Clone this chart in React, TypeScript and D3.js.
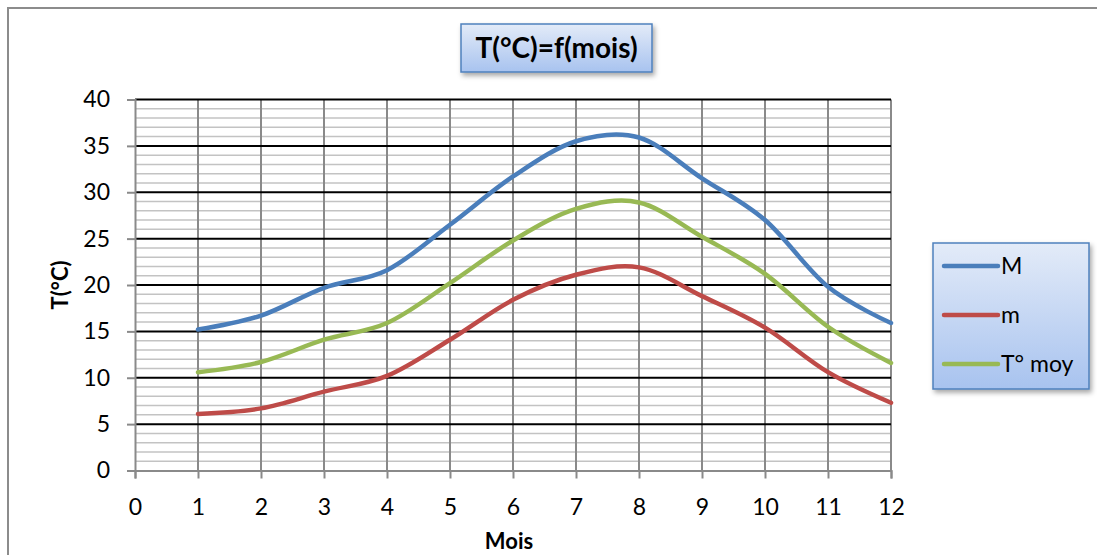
import { useEffect, useRef } from "react";
import * as d3 from "d3";

// months 1..12
const mois = [1, 2, 3, 4, 5, 6, 7, 8, 9, 10, 11, 12];
const tMax = [15.2, 16.7, 19.7, 21.6, 26.5, 31.7, 35.5, 35.9, 31.5, 27.0, 19.8, 15.9];
const tMin = [6.1, 6.7, 8.5, 10.2, 14.1, 18.4, 21.1, 21.9, 18.8, 15.4, 10.6, 7.3];
const tMoy = [10.6, 11.7, 14.1, 15.9, 20.2, 24.8, 28.2, 28.9, 25.2, 21.2, 15.5, 11.6];
const xTicks = [0, 1, 2, 3, 4, 5, 6, 7, 8, 9, 10, 11, 12];
const yTicks = [0, 5, 10, 15, 20, 25, 30, 35, 40];

const seriesNames = ["M", "m", "T° moy"];
const seriesColors = ["#4a7ebb", "#be4b48", "#98b954"];
const seriesValues = [tMax, tMin, tMoy];

const FONT = "Lato, 'Open Sans', sans-serif";

export default function App() {
    const svgRef = useRef<SVGSVGElement | null>(null);
    const W = 1097;
    const H = 555;
    const margin = { top: 99.5, right: 206, bottom: 84.5, left: 135 };

    useEffect(() => {
        const svg = d3.select(svgRef.current);
        svg.selectAll("*").remove();

        const defs = svg.append("defs");
        const grad = defs.append("linearGradient")
            .attr("id", "boxGrad")
            .attr("x1", 0).attr("y1", 0).attr("x2", 0).attr("y2", 1);
        grad.append("stop").attr("offset", "0%").attr("stop-color", "#e3ebf8");
        grad.append("stop").attr("offset", "100%").attr("stop-color", "#a8c3ef");
        const shadow = defs.append("filter").attr("id", "shadow")
            .attr("x", "-20%").attr("y", "-20%").attr("width", "150%").attr("height", "150%");
        shadow.append("feDropShadow")
            .attr("dx", 2).attr("dy", 3).attr("stdDeviation", 2.5)
            .attr("flood-color", "#000").attr("flood-opacity", 0.35);

        // outer frame (only top & left visible)
        svg.append("rect")
            .attr("x", 8).attr("y", 8)
            .attr("width", 1200).attr("height", 700)
            .attr("fill", "white")
            .attr("stroke", "#8c8c8c")
            .attr("stroke-width", 2);

        const wG = W - margin.left - margin.right;
        const hG = H - margin.top - margin.bottom;

        const x = d3.scaleLinear().domain([0, 12]).range([0, wG]);
        const y = d3.scaleLinear().domain([0, 40]).range([hG, 0]);

        const g = svg.append("g")
            .attr("transform", `translate(${margin.left},${margin.top})`);

        // minor horizontal gridlines
        g.append("g")
            .selectAll("line")
            .data(d3.range(1, 40).filter((v) => v % 5 !== 0))
            .join("line")
            .attr("x1", 0).attr("x2", wG)
            .attr("y1", (d) => y(d)).attr("y2", (d) => y(d))
            .attr("stroke", "#c3c3c3")
            .attr("stroke-width", 1.5);

        // vertical gridlines
        g.append("g")
            .selectAll("line")
            .data(xTicks.slice(1))
            .join("line")
            .attr("x1", (d) => x(d)).attr("x2", (d) => x(d))
            .attr("y1", 0).attr("y2", hG)
            .attr("stroke", "#8a8a8a")
            .attr("stroke-width", 2);

        // major horizontal gridlines
        g.append("g")
            .selectAll("line")
            .data(yTicks.slice(1))
            .join("line")
            .attr("x1", 0).attr("x2", wG)
            .attr("y1", (d) => y(d)).attr("y2", (d) => y(d))
            .attr("stroke", "#000")
            .attr("stroke-width", 2);

        // y axis
        const yAxis = g.append("g")
            .call(d3.axisLeft(y).tickValues(yTicks).tickSize(8).tickPadding(17));
        yAxis.select(".domain").attr("stroke", "#8a8a8a").attr("stroke-width", 2);
        yAxis.selectAll(".tick line").attr("stroke", "#8a8a8a").attr("stroke-width", 2);
        yAxis.selectAll(".tick text")
            .attr("font-family", FONT).attr("font-size", 23).attr("fill", "#000");

        // x axis
        const xAxis = g.append("g")
            .attr("transform", `translate(0,${hG})`)
            .call(d3.axisBottom(x).tickValues(xTicks).tickSize(8).tickPadding(20));
        xAxis.select(".domain").attr("stroke", "#8a8a8a").attr("stroke-width", 2);
        xAxis.selectAll(".tick line").attr("stroke", "#8a8a8a").attr("stroke-width", 2);
        xAxis.selectAll(".tick text")
            .attr("font-family", FONT).attr("font-size", 23).attr("fill", "#000");

        // lines
        const line = d3.line<number>()
            .x((_, i) => x(mois[i]))
            .y((d) => y(d))
            .curve(d3.curveCardinal.tension(0));

        seriesValues.forEach((vals, i) => {
            g.append("path")
                .datum(vals)
                .attr("fill", "none")
                .attr("stroke", seriesColors[i])
                .attr("stroke-width", 4.5)
                .attr("stroke-linecap", "round")
                .attr("d", line);
        });

        // axis titles
        svg.append("text")
            .attr("x", margin.left + wG / 2 - 4)
            .attr("y", 549)
            .attr("text-anchor", "middle")
            .attr("font-family", FONT).attr("font-weight", "bold").attr("font-size", 22)
            .text("Mois");
        svg.append("text")
            .attr("transform", `translate(68,${margin.top + hG / 2}) rotate(-90)`)
            .attr("text-anchor", "middle")
            .attr("font-family", FONT).attr("font-weight", "bold").attr("font-size", 22)
            .text("T(°C)");

        // title box
        svg.append("rect")
            .attr("x", 461).attr("y", 24)
            .attr("width", 191).attr("height", 48)
            .attr("fill", "url(#boxGrad)")
            .attr("stroke", "#4f81bd").attr("stroke-width", 1.5)
            .attr("filter", "url(#shadow)");
        svg.append("text")
            .attr("x", 556.5).attr("y", 58)
            .attr("text-anchor", "middle")
            .attr("font-family", FONT).attr("font-weight", "bold").attr("font-size", 28)
            .text("T(°C)=f(mois)");

        // legend
        const legend = svg.append("g").attr("transform", "translate(933,243)");
        legend.append("rect")
            .attr("width", 156).attr("height", 146)
            .attr("fill", "url(#boxGrad)")
            .attr("stroke", "#4f81bd").attr("stroke-width", 1.5)
            .attr("filter", "url(#shadow)");
        seriesNames.forEach((name, i) => {
            const ly = 23 + i * 49;
            legend.append("line")
                .attr("x1", 11).attr("x2", 65)
                .attr("y1", ly).attr("y2", ly)
                .attr("stroke", seriesColors[i])
                .attr("stroke-width", 4.5)
                .attr("stroke-linecap", "round");
            legend.append("text")
                .attr("x", 68).attr("y", ly + 8)
                .attr("font-family", FONT).attr("font-size", 23)
                .text(name);
        });
    }, []);

    return (
        <svg
            ref={svgRef}
            width={W}
            height={H}
            style={{ position: "absolute", left: 0, top: 0, background: "white" }}
        />
    );
}
